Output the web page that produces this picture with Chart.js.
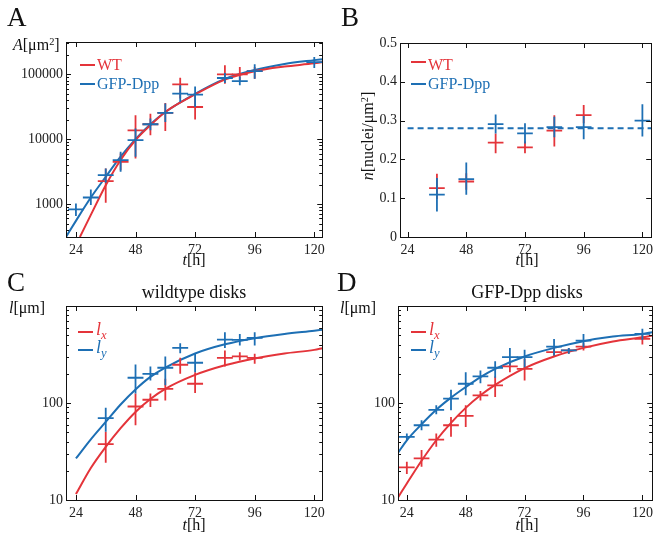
<!DOCTYPE html>
<html>
<head>
<meta charset="utf-8">
<title>Disc growth</title>
<script src="https://cdn.jsdelivr.net/npm/chart.js@4.4.1/dist/chart.umd.min.js"></script>
<style>
  body { margin: 0; width: 658px; height: 538px; position: relative; overflow: hidden; background: #fff;
         font-family: "Liberation Serif", "Times New Roman", serif; color: #111; }
  canvas { position: absolute; }
  .t { position: absolute; line-height: 1; white-space: nowrap; }
  .letter { font-size: 27px; }
  .ax { font-size: 16px; }
  .ttl { font-size: 18px; }
  .leg { font-size: 16px; }
  .lv { font-size: 18px; font-style: italic; }
  .mid { transform: translateX(-50%); }
  .key { position: absolute; width: 15px; height: 2px; }
  sup { font-size: 0.65em; vertical-align: 0.5em; line-height: 0; }
  sub { font-size: 0.7em; vertical-align: -0.35em; line-height: 0; }
  .red { color: #e4343a; } .blue { color: #1d6fb4; }
  .kr { background: #e4343a; } .kb { background: #1d6fb4; }
</style>
</head>
<body>
<canvas id="chartA" width="330" height="270" style="left:0;top:0"></canvas>
<canvas id="chartB" width="328" height="270" style="left:330px;top:0"></canvas>
<canvas id="chartC" width="330" height="268" style="left:0;top:270px"></canvas>
<canvas id="chartD" width="328" height="268" style="left:330px;top:270px"></canvas>

<div class="t letter" style="left:7px;top:4px">A</div>
<div class="t letter" style="left:341px;top:4px">B</div>
<div class="t letter" style="left:7px;top:269px">C</div>
<div class="t letter" style="left:337px;top:269px">D</div>

<div class="t ax" style="left:13px;top:37px"><i>A</i>[μm<sup>2</sup>]</div>
<div class="t ax" style="left:368px;top:136px;transform:translate(-50%,-50%) rotate(-90deg)"><i>n</i>[nuclei/μm<sup>2</sup>]</div>
<div class="t ax" style="left:9px;top:300px"><i>l</i>[μm]</div>
<div class="t ax" style="left:340px;top:300px"><i>l</i>[μm]</div>
<div class="t ax mid" style="left:194px;top:252px"><i>t</i>[h]</div>
<div class="t ax mid" style="left:527px;top:252px"><i>t</i>[h]</div>
<div class="t ax mid" style="left:194px;top:517px"><i>t</i>[h]</div>
<div class="t ax mid" style="left:527px;top:517px"><i>t</i>[h]</div>

<div class="t ttl mid" style="left:194px;top:283px">wildtype disks</div>
<div class="t ttl mid" style="left:527px;top:283px">GFP-Dpp disks</div>

<div class="key kr" style="left:80px;top:64px"></div>
<div class="key kb" style="left:80px;top:83px"></div>
<div class="t leg red" style="left:97px;top:57px">WT</div>
<div class="t leg blue" style="left:97px;top:76px">GFP-Dpp</div>

<div class="key kr" style="left:411px;top:61px"></div>
<div class="key kb" style="left:411px;top:83px"></div>
<div class="t leg red" style="left:428px;top:57px">WT</div>
<div class="t leg blue" style="left:428px;top:76px">GFP-Dpp</div>

<div class="key kr" style="left:78px;top:331px"></div>
<div class="key kb" style="left:78px;top:349px"></div>
<div class="t lv red" style="left:96px;top:320px">l<sub>x</sub></div>
<div class="t lv blue" style="left:96px;top:338px">l<sub>y</sub></div>

<div class="key kr" style="left:411px;top:331px"></div>
<div class="key kb" style="left:411px;top:349px"></div>
<div class="t lv red" style="left:429px;top:320px">l<sub>x</sub></div>
<div class="t lv blue" style="left:429px;top:338px">l<sub>y</sub></div>

<script>
const RED = "#e4343a";
const BLUE = "#1d6fb4";

const timeTicks = [24, 48, 72, 96, 120];
const areaTickLabels = [1000, 10000, 100000];
const lengthTickLabels = [10, 100];
const densityTicks = [0, 0.1, 0.2, 0.3, 0.4, 0.5];
const timeErr = 3.2; // half width of the time bins [h]

// A: disc area [um^2]
const areaWtT = [36, 42, 48, 54, 60, 66, 72, 84, 90, 96];
const areaWt = [2260, 4470, 13700, 17000, 25400, 70000, 31400, 100000, 100000, 112000];
const areaWtLo = [1050, 3330, 5050, 11500, 13400, 42300, 20100, 71800, 80900, 85800];
const areaWtHi = [3540, 6010, 23400, 24800, 36200, 88900, 50400, 138000, 130000, 130000];
const areaGfpT = [24, 30, 36, 42, 48, 54, 60, 66, 72, 84, 90, 96, 120];
const areaGfp = [830, 1260, 2790, 4750, 9660, 17000, 25400, 50500, 48600, 88000, 79000, 112000, 155000];
const areaGfpLo = [653, 966, 2130, 3140, 5350, 13700, 18500, 37500, 31400, 73600, 67700, 85800, 125000];
const areaGfpHi = [1020, 1680, 3540, 6380, 14600, 20800, 35400, 67800, 65300, 105000, 93100, 143000, 185000];
const areaFitWtT = [25.6, 30, 36, 42, 48, 54, 60, 72, 84, 96, 108, 120, 123.5];
const areaFitWt = [310, 680, 1950, 4790, 9660, 16400, 26300, 49000, 83200, 112000, 132000, 148000, 155000];
const areaFitGfpT = [20, 24, 30, 36, 42, 48, 54, 60, 72, 84, 96, 108, 120, 123.5];
const areaFitGfp = [310, 550, 1260, 2630, 5370, 10000, 17000, 26300, 50100, 85100, 117000, 145000, 166000, 172000];

// B: cell density [nuclei/um^2]
const densWtT = [36, 48, 60, 72, 84, 96];
const densWt = [0.126, 0.143, 0.243, 0.231, 0.274, 0.314];
const densWtLo = [0.098, 0.122, 0.216, 0.216, 0.233, 0.293];
const densWtHi = [0.163, 0.164, 0.267, 0.246, 0.314, 0.34];
const densGfpT = [36, 48, 60, 72, 84, 96, 120];
const densGfp = [0.109, 0.149, 0.291, 0.267, 0.283, 0.283, 0.3];
const densGfpLo = [0.066, 0.109, 0.267, 0.241, 0.257, 0.252, 0.259];
const densGfpHi = [0.152, 0.192, 0.316, 0.293, 0.31, 0.312, 0.342];
const densMeanT = [24, 124];
const densMean = [0.28, 0.28];

// C: wildtype disks, lengths [um]
const wtT = [36, 48, 54, 60, 66, 72, 84, 90, 96];
const wtLx = [37.6, 92, 108, 140, 248, 158, 292, 302, 292];
const wtLxLo = [24.2, 59, 91, 106, 200, 127, 238, 274, 254];
const wtLxHi = [50.4, 125, 125, 178, 292, 208, 348, 334, 321];
const wtLy = [70, 182, 200, 231, 370, 260, 451, 447, 470];
const wtLyLo = [50.4, 125, 171, 152, 326, 208, 370, 391, 391];
const wtLyHi = [89.6, 249, 238, 301, 413, 326, 536, 515, 536];
const wtFitT = [24, 30, 36, 42, 48, 54, 60, 72, 84, 96, 108, 120, 123.3];
const wtFitLx = [11.5, 21.4, 35.3, 55, 80.9, 110, 140, 195, 245, 288, 324, 353, 367];
const wtFitLy = [26.8, 42.2, 63.8, 96.6, 138, 186, 232, 324, 403, 466, 515, 556, 569];

// D: GFP-Dpp disks, lengths [um]
const gfpT = [24, 30, 36, 42, 48, 54, 60, 66, 72, 84, 90, 96, 120];
const gfpLx = [21.7, 26.8, 42, 59, 73.5, 120, 152, 238, 225, 334, 348, 382, 458];
const gfpLxLo = [18.5, 22, 35.3, 44.8, 56.6, 106, 115, 208, 171, 301, 321, 348, 401];
const gfpLxHi = [24.8, 32.7, 48.4, 71.8, 94.6, 133, 188, 264, 285, 370, 370, 413, 507];
const gfpLy = [44.8, 59, 85, 111, 158, 188, 231, 297, 297, 382, 348, 440, 515];
const gfpLyLo = [41.3, 52.4, 76.6, 84.1, 120, 160, 182, 244, 234, 309, 321, 376, 448];
const gfpLyHi = [48.4, 66.4, 94.6, 137, 208, 216, 270, 370, 353, 458, 370, 515, 581];
const gfpFitT = [20.4, 24, 30, 36, 42, 48, 54, 60, 72, 84, 96, 108, 120, 124];
const gfpFitLx = [10.6, 14.8, 25.4, 41.3, 62.4, 89.1, 120, 154, 229, 302, 370, 431, 476, 495];
const gfpFitLy = [30.6, 41.3, 60.3, 85.1, 113.5, 146, 185, 225, 302, 370, 434, 484, 515, 537];

Chart.defaults.font.family = '"Liberation Serif", "Times New Roman", serif';
Chart.defaults.font.size = 14;
Chart.defaults.color = "#222";

const toPoints = (ts, vs, lo, hi) => ts.map((t, i) => ({ x: t, y: vs[i], lo: lo[i], hi: hi[i] }));
const toLine = (ts, vs) => ts.map((t, i) => ({ x: t, y: vs[i] }));

const fitLine = (ts, vs, color, extra) => ({
  data: toLine(ts, vs),
  showLine: true,
  borderColor: color,
  borderWidth: 2,
  pointRadius: 0,
  cubicInterpolationMode: "monotone",
  ...extra,
});

const crossSet = (pts, color) => ({
  data: pts,
  crosses: true,
  borderColor: color,
  pointRadius: 0,
  showLine: false,
});

// error crosses: horizontal = time bin, vertical = lo..hi
const crossPlugin = {
  id: "crosses",
  afterDatasetsDraw(chart) {
    const { ctx, chartArea: a, scales: { x, y } } = chart;
    ctx.save();
    ctx.beginPath();
    ctx.rect(a.left, a.top, a.width, a.height);
    ctx.clip();
    ctx.lineWidth = 1.8;
    chart.data.datasets.forEach((ds) => {
      if (!ds.crosses) return;
      ctx.strokeStyle = ds.borderColor;
      ds.data.forEach((p) => {
        const cx = x.getPixelForValue(p.x);
        const cy = y.getPixelForValue(p.y);
        ctx.beginPath();
        ctx.moveTo(x.getPixelForValue(p.x - timeErr), cy);
        ctx.lineTo(x.getPixelForValue(p.x + timeErr), cy);
        ctx.moveTo(cx, y.getPixelForValue(p.lo));
        ctx.lineTo(cx, y.getPixelForValue(p.hi));
        ctx.stroke();
      });
    });
    ctx.restore();
  },
};

// box around the plot with inward ticks on all sides
const framePlugin = {
  id: "frame",
  afterDraw(chart) {
    const { ctx, chartArea: a, scales: { x, y } } = chart;
    ctx.save();
    ctx.strokeStyle = "#111";
    ctx.lineWidth = 1;
    ctx.strokeRect(Math.round(a.left) + 0.5, Math.round(a.top) + 0.5, Math.round(a.width), Math.round(a.height));
    ctx.beginPath();
    x.ticks.forEach((t) => {
      const px = Math.round(x.getPixelForValue(t.value)) + 0.5;
      ctx.moveTo(px, a.bottom);
      ctx.lineTo(px, a.bottom - 5);
      ctx.moveTo(px, a.top);
      ctx.lineTo(px, a.top + 5);
    });
    y.ticks.forEach((t) => {
      let len = 5;
      if (y.type === "logarithmic") {
        const e = Math.floor(Math.log10(t.value) + 1e-9);
        const s = t.value / Math.pow(10, e);
        if (Math.abs(s - Math.round(s)) > 1e-6) return;
        if (Math.round(s) !== 1) len = 3;
      }
      const py = Math.round(y.getPixelForValue(t.value)) + 0.5;
      ctx.moveTo(a.left, py);
      ctx.lineTo(a.left + len, py);
      ctx.moveTo(a.right, py);
      ctx.lineTo(a.right - len, py);
    });
    ctx.stroke();
    ctx.restore();
  },
};

function makeChart(id, cfg) {
  return new Chart(document.getElementById(id), {
    type: "scatter",
    data: { datasets: cfg.datasets },
    options: {
      responsive: false,
      animation: false,
      devicePixelRatio: 1,
      events: [],
      layout: { padding: { top: cfg.top, right: cfg.right, left: 0, bottom: 0 } },
      plugins: { legend: { display: false }, tooltip: { enabled: false } },
      scales: {
        x: {
          type: "linear",
          min: cfg.xMin,
          max: cfg.xMax,
          grid: { display: false, drawTicks: false },
          border: { display: false },
          ticks: { padding: 5, autoSkip: false, maxRotation: 0 },
          afterBuildTicks: (s) => {
            s.ticks = timeTicks.map((v) => ({ value: v }));
          },
          afterFit: (s) => {
            s.height = cfg.xHeight;
          },
        },
        y: {
          type: cfg.yType,
          min: cfg.yMin,
          max: cfg.yMax,
          grid: { display: false, drawTicks: false },
          border: { display: false },
          ticks: { padding: 3, autoSkip: false, callback: cfg.yLabel },
          afterBuildTicks: cfg.yTicks
            ? (s) => {
                s.ticks = cfg.yTicks.map((v) => ({ value: v }));
              }
            : undefined,
          afterFit: (s) => {
            s.width = cfg.yWidth;
          },
        },
      },
    },
    plugins: [crossPlugin, framePlugin],
  });
}

const logLabel = (labels) => (v) => (labels.includes(v) ? String(v) : "");

makeChart("chartA", {
  top: 42, right: 7, yWidth: 66, xHeight: 33,
  xMin: 20, xMax: 123.2,
  yType: "logarithmic", yMin: 310, yMax: 316000,
  yLabel: logLabel(areaTickLabels),
  datasets: [
    fitLine(areaFitWtT, areaFitWt, RED),
    fitLine(areaFitGfpT, areaFitGfp, BLUE),
    crossSet(toPoints(areaWtT, areaWt, areaWtLo, areaWtHi), RED),
    crossSet(toPoints(areaGfpT, areaGfp, areaGfpLo, areaGfpHi), BLUE),
  ],
});

makeChart("chartB", {
  top: 43, right: 3, yWidth: 70, xHeight: 33,
  xMin: 20.9, xMax: 123.6,
  yType: "linear", yMin: 0, yMax: 0.5, yTicks: densityTicks,
  yLabel: (v) => String(v),
  datasets: [
    fitLine(densMeanT, densMean, BLUE, { borderDash: [6, 4], cubicInterpolationMode: "default", tension: 0 }),
    crossSet(toPoints(densWtT, densWt, densWtLo, densWtHi), RED),
    crossSet(toPoints(densGfpT, densGfp, densGfpLo, densGfpHi), BLUE),
  ],
});

makeChart("chartC", {
  top: 36, right: 7, yWidth: 66, xHeight: 38,
  xMin: 20, xMax: 123.2,
  yType: "logarithmic", yMin: 10, yMax: 1000,
  yLabel: logLabel(lengthTickLabels),
  datasets: [
    fitLine(wtFitT, wtFitLx, RED),
    fitLine(wtFitT, wtFitLy, BLUE),
    crossSet(toPoints(wtT, wtLx, wtLxLo, wtLxHi), RED),
    crossSet(toPoints(wtT, wtLy, wtLyLo, wtLyHi), BLUE),
  ],
});

makeChart("chartD", {
  top: 36, right: 3, yWidth: 68, xHeight: 38,
  xMin: 20.4, xMax: 124,
  yType: "logarithmic", yMin: 10, yMax: 1000,
  yLabel: logLabel(lengthTickLabels),
  datasets: [
    fitLine(gfpFitT, gfpFitLx, RED),
    fitLine(gfpFitT, gfpFitLy, BLUE),
    crossSet(toPoints(gfpT, gfpLx, gfpLxLo, gfpLxHi), RED),
    crossSet(toPoints(gfpT, gfpLy, gfpLyLo, gfpLyHi), BLUE),
  ],
});
</script>
</body>
</html>
